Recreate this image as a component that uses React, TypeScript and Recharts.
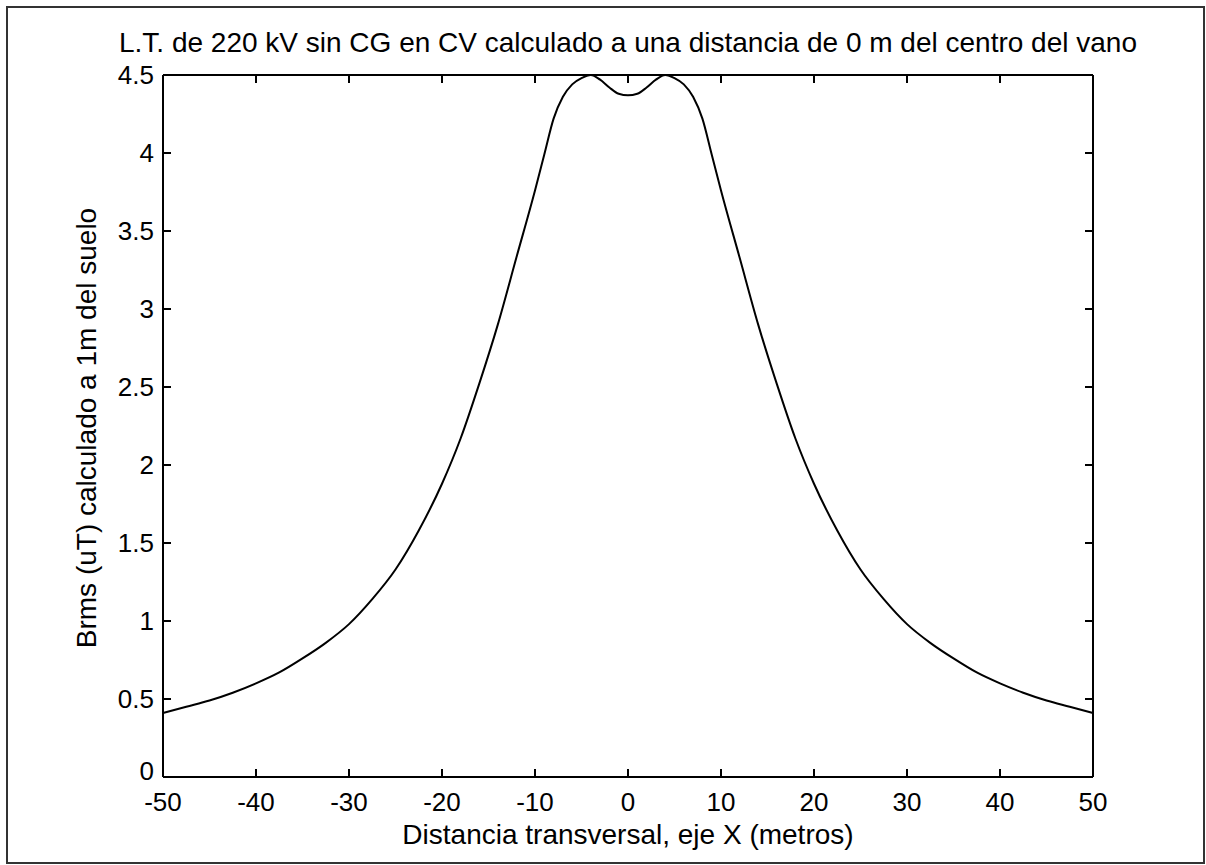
import React from 'react';
import { LineChart, Line, XAxis, YAxis } from 'recharts';

const distances = [
  -50, -47.5, -45, -42.5, -40, -37.5, -35, -32.5, -30, -27.5, -25, -22.5, -20, -18, -16, -14, -12, -10,
  -9, -8, -7, -6, -5, -4, -3, -2, -1, 0, 1, 2, 3, 4, 5, 6, 7, 8, 9,
  10, 12, 14, 16, 18, 20, 22.5, 25, 27.5, 30, 32.5, 35, 37.5, 40, 42.5, 45, 47.5, 50,
];
const brms = [
  0.41, 0.45, 0.49, 0.54, 0.6, 0.67, 0.76, 0.86, 0.98, 1.14, 1.33, 1.58, 1.88, 2.17, 2.52, 2.9, 3.33, 3.76,
  3.99, 4.22, 4.36, 4.44, 4.48, 4.5, 4.47, 4.42, 4.38, 4.37, 4.38, 4.42, 4.47, 4.5, 4.48, 4.44, 4.36, 4.22, 3.99,
  3.76, 3.33, 2.9, 2.52, 2.17, 1.88, 1.58, 1.33, 1.14, 0.98, 0.86, 0.76, 0.67, 0.6, 0.54, 0.49, 0.45, 0.41,
];
const xTicks = [-50, -40, -30, -20, -10, 0, 10, 20, 30, 40, 50];
const yTicks = [0, 0.5, 1, 1.5, 2, 2.5, 3, 3.5, 4, 4.5];

const titleText = 'L.T. de 220 kV sin CG en CV calculado a una distancia de 0 m del centro del vano';
const xLabelText = 'Distancia transversal, eje X (metros)';
const yLabelText = 'Brms (uT) calculado a 1m del suelo';

const data = distances.map((x, i) => ({ x, b: brms[i] }));

const FONT = '"Liberation Sans", Arial, sans-serif';
const tickStyle = { fontSize: 26, fill: '#000', fontFamily: FONT };

const YTick = (props: any) => {
  const { x, y, payload } = props;
  const shift = payload.value === 0 ? -6 : 0;
  return (
    <text x={x} y={y + shift} dy="0.355em" textAnchor="end" style={tickStyle} fill="#000">
      {String(payload.value)}
    </text>
  );
};

export default function App() {
  return (
    <div style={{ position: 'absolute', left: 0, top: 0, width: 1206, height: 865, background: '#fff' }}>
      <div
        style={{
          position: 'absolute', left: 6, top: 6, width: 1195, height: 854,
          border: '2px solid #333', boxSizing: 'content-box',
        }}
      />
      <div style={{ position: 'absolute', left: 0, top: 0 }}>
        <LineChart width={1206} height={865} data={data} margin={{ top: 74, left: 162, right: 112, bottom: 87 }}>
          <XAxis
            xAxisId="b" dataKey="x" type="number" domain={[-50, 50]} ticks={xTicks} height={1}
            orientation="bottom" tickSize={-8} tickMargin={24} interval={0}
            stroke="#000" strokeWidth={2} tick={tickStyle} tickLine={{ stroke: '#000', strokeWidth: 2 }}
          />
          <XAxis
            xAxisId="t" dataKey="x" type="number" domain={[-50, 50]} ticks={xTicks} height={1}
            orientation="top" tickSize={-8} tickFormatter={() => ''} interval={0}
            stroke="#000" strokeWidth={2} tickLine={{ stroke: '#000', strokeWidth: 2 }}
          />
          <YAxis
            yAxisId="l" type="number" domain={[0, 4.5]} ticks={yTicks} width={1} allowDataOverflow
            orientation="left" tickSize={-8} tickMargin={17} interval={0}
            stroke="#000" strokeWidth={2} tick={<YTick />} tickLine={{ stroke: '#000', strokeWidth: 2 }}
          />
          <YAxis
            yAxisId="r" type="number" domain={[0, 4.5]} ticks={yTicks} width={1} allowDataOverflow
            orientation="right" tickSize={-8} tickFormatter={() => ''} interval={0}
            stroke="#000" strokeWidth={2} tickLine={{ stroke: '#000', strokeWidth: 2 }}
          />
          <Line
            xAxisId="b" yAxisId="l" dataKey="b" type="monotone" stroke="#000" strokeWidth={2}
            dot={false} isAnimationActive={false}
          />
          <text x={628} y={52} textAnchor="middle" style={{ fontSize: 28, fontFamily: FONT }} fill="#000">
            {titleText}
          </text>
          <text x={628} y={844} textAnchor="middle" style={{ fontSize: 28, fontFamily: FONT }} fill="#000">
            {xLabelText}
          </text>
          <text
            x={96} y={428} textAnchor="middle" transform="rotate(-90 96 428)"
            style={{ fontSize: 28, fontFamily: FONT }} fill="#000"
          >
            {yLabelText}
          </text>
        </LineChart>
      </div>
    </div>
  );
}
